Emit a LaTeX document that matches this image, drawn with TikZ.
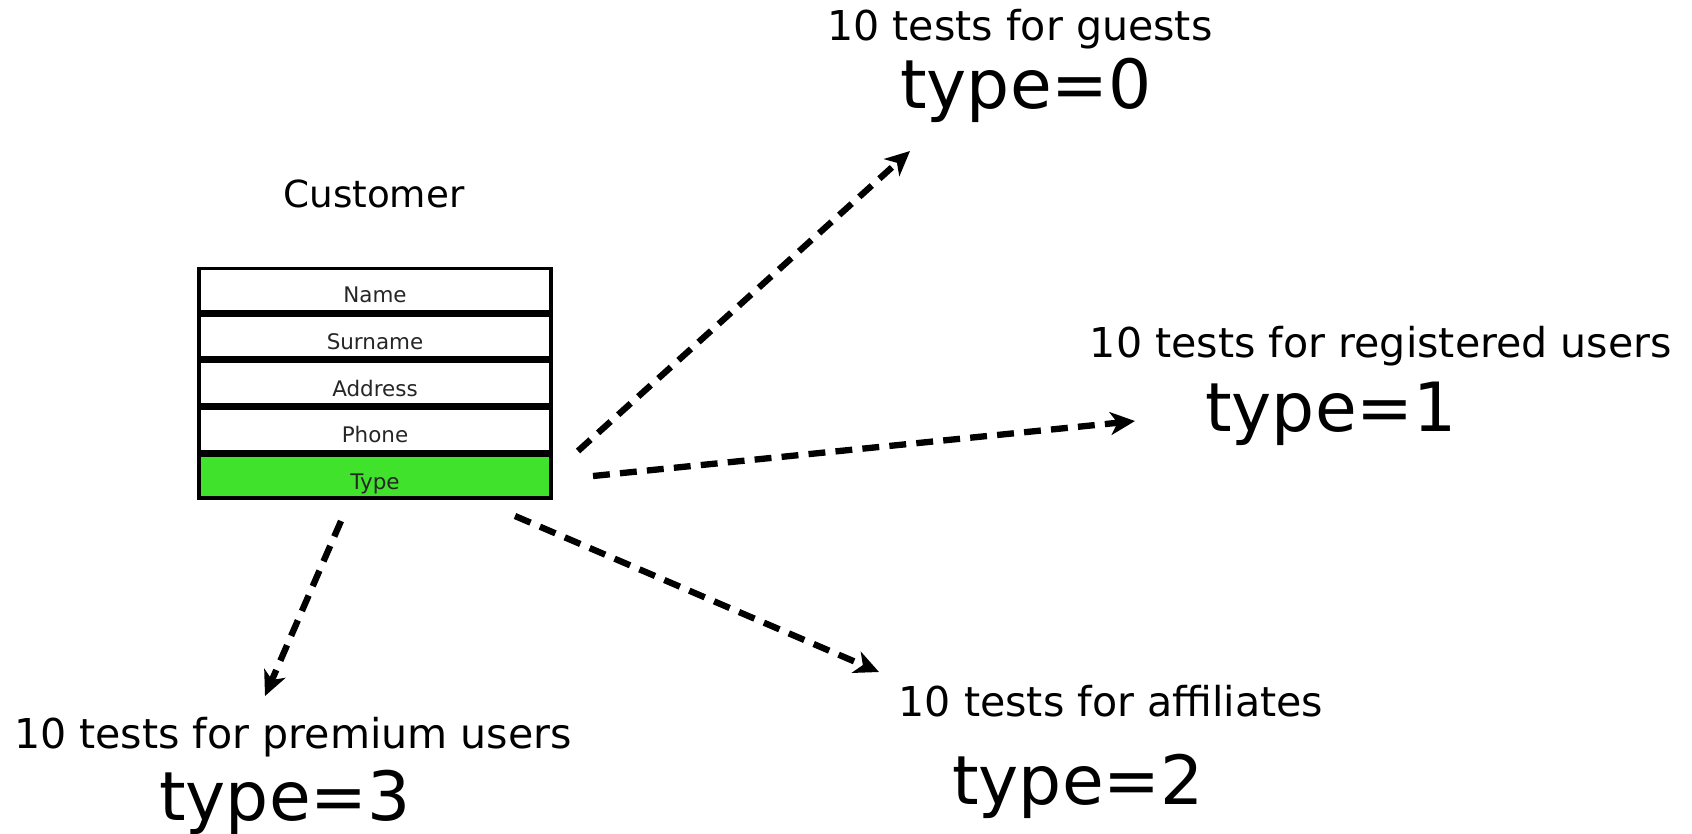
\documentclass[tikz,border=0pt]{standalone}
\usepackage{fontspec}
\setmainfont{DejaVu Sans}
\usetikzlibrary{positioning,arrows.meta}
\definecolor{typegreen}{RGB}{64,226,44}
\tikzset{
    >={Stealth[length=7pt,width=6.5pt,inset=2pt]},
    field/.style={
        rectangle,
        draw=black, line width=1pt,
        fill=white,
        text=black!85,
        minimum width=3.52cm,
        minimum height=0.431cm,
        inner sep=0pt,
        text height=0.73em, text depth=0pt,
        font={\fontsize{6.1pt}{7pt}\selectfont}
    },
    testtext/.style={
        anchor=base, inner sep=0pt,
        font={\fontsize{11.7pt}{14pt}\selectfont}
    },
    typetext/.style={
        anchor=base, inner sep=0pt,
        font={\fontsize{19.3pt}{23pt}\selectfont}
    },
    flow/.style={draw, ->, line width=1.8pt, dash pattern=on 4.8pt off 2.9pt},
}
\begin{document}
\begin{tikzpicture}[x=0.01cm,y=-0.01cm]
\useasboundingbox (0,0) rectangle (1692,833);
% the customer record
\node[anchor=base, inner sep=0pt, font={\fontsize{10.6pt}{13pt}\selectfont}] (customer) at (374,207) {Customer};
\node[field] (name) at (375,290) {Name};
\node[field, below=0pt of name] (surname) {Surname};
\node[field, below=0pt of surname] (address) {Address};
\node[field, below=0pt of address] (phone) {Phone};
\node[field, fill=typegreen, below=0pt of phone] (type) {Type};
% the test groups
\node[testtext] (guests) at (1020,40) {10 tests for guests};
\node[typetext] (type0) at (1026,108) {type=0};
\node[testtext] (registered) at (1381,357) {10 tests for registered users};
\node[typetext] (type1) at (1331,431) {type=1};
\node[testtext] (affiliates) at (1111,716) {10 tests for affiliates};
\node[typetext] (type2) at (1078,804) {type=2};
\node[testtext] (premium) at (293,748) {10 tests for premium users};
\node[typetext] (type3) at (285,820) {type=3};
% arrows
\coordinate (from0) at (578,451);
\coordinate (to0) at (910,151);
\coordinate (from1) at (593,476);
\coordinate (to1) at (1135,421);
\coordinate (from2) at (515,516);
\coordinate (to2) at (879,672);
\coordinate (from3) at (341,521);
\coordinate (to3) at (265,696);
\draw[flow] (from0) -- (to0);
\draw[flow] (from1) -- (to1);
\draw[flow] (from2) -- (to2);
\draw[flow] (from3) -- (to3);
\end{tikzpicture}
\end{document}
